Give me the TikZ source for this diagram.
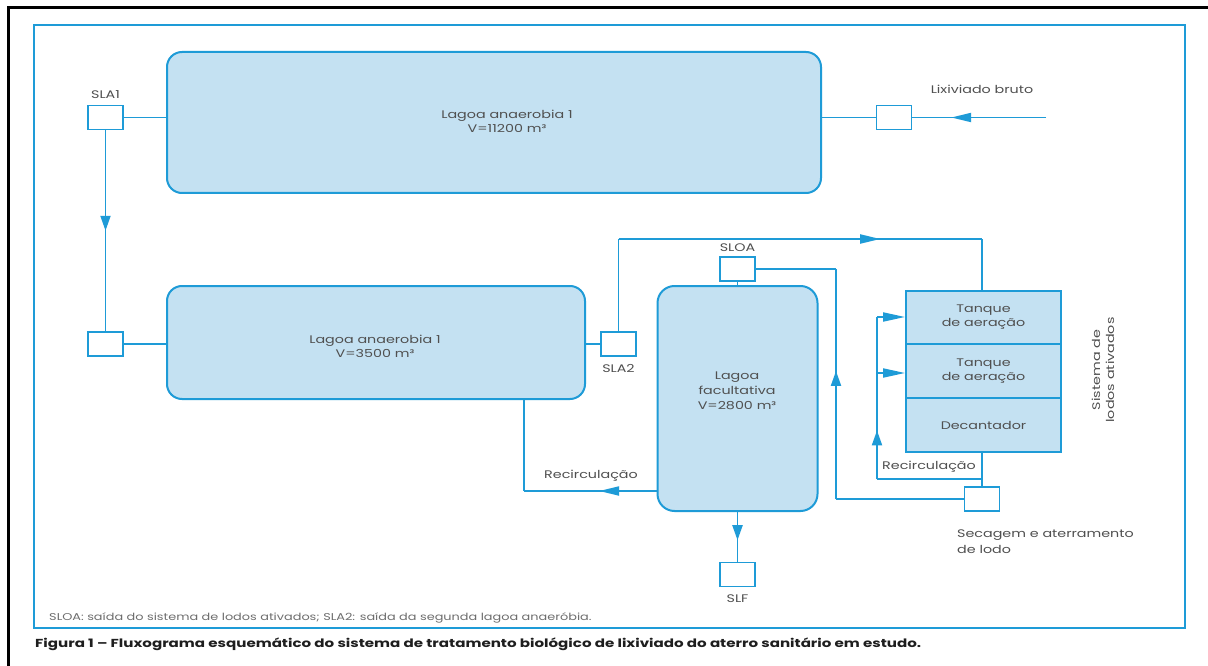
\documentclass[tikz,border=0pt]{standalone}
\usepackage{fontspec}
\setmainfont[FakeStretch=1.3]{Poppins}
\usetikzlibrary{arrows.meta,decorations.markings}
\definecolor{lineblue}{RGB}{30,155,215}
\definecolor{fillblue}{RGB}{196,225,242}
\definecolor{txtgray}{RGB}{80,80,80}
\tikzset{
  conn/.style={draw=lineblue,line width=1.9pt},
  lagoa/.style={draw=lineblue,fill=fillblue,line width=2pt,rounded corners=15pt,inner sep=0pt},
  smallbox/.style={draw=lineblue,fill=white,line width=1.9pt,minimum width=35pt,minimum height=24pt,inner sep=0pt},
  tank/.style={draw=lineblue,fill=fillblue,line width=1.9pt,minimum width=155pt,inner sep=0pt,align=center,font=\fontsize{11}{14}\selectfont,text=txtgray},
  lbl/.style={font=\fontsize{11}{14}\selectfont,text=txtgray,inner sep=0pt},
  vmark/.style={postaction={decorate,decoration={markings,mark=at position #1 with {\arrow{Triangle[length=15pt,width=10pt]}}}}},
  hmark/.style={postaction={decorate,decoration={markings,mark=at position #1 with {\arrow{Triangle[length=20pt,width=9pt]}}}}},
  tipend/.style={-{Triangle[length=22pt,width=9pt]}}
}
\begin{document}
\begin{tikzpicture}[x=1pt,y=-1pt,color=lineblue,fill=lineblue]
\useasboundingbox (0,0) rectangle (1208,666);
\fill[white] (0,0) rectangle (1208,666);
% outer frames
\draw[black,line width=3pt] (8,666) -- (8,8) -- (1208,8);
\draw[lineblue,line width=1.5pt] (34,25) rectangle (1185,628);

% lagoons
\node[lagoa,minimum width=654pt,minimum height=141pt] (lag1) at (494,122.5) {};
\node[lbl,align=center] (lag1t) at (507,121) {Lagoa anaerobia 1\\V=11200 m³};
\node[lagoa,minimum width=418pt,minimum height=113pt] (lag2) at (376,342.5) {};
\node[lbl,align=center] (lag2t) at (375,346) {Lagoa anaerobia 1\\V=3500 m³};
\node[lagoa,rounded corners=17pt,minimum width=160pt,minimum height=225pt] (lagf) at (737.5,398.5) {};
\node[lbl,align=center,font=\fontsize{11}{15}\selectfont] (lagft) at (737,391) {Lagoa\\facultativa\\V=2800 m³};

% activated sludge system
\node[tank,minimum height=53pt] (tank1) at (983.5,317.5) {Tanque\\de aeração};
\node[tank,minimum height=54pt] (tank2) at (983.5,371) {Tanque\\de aeração};
\node[tank,minimum height=54pt] (dec) at (983.5,425) {Decantador};
\node[lbl,rotate=90,align=center] (sist) at (1103,370) {Sistema de\\lodos ativados};

% small boxes
\node[smallbox] (sla1) at (105.5,117.5) {};
\node[lbl] (sla1l) at (105.5,95) {SLA1};
\node[smallbox] (b2) at (105.5,344) {};
\node[smallbox] (sla2) at (618.5,344) {};
\node[lbl] (sla2l) at (618.5,368) {SLA2};
\node[smallbox] (sloa) at (737.5,269) {};
\node[lbl] (sloal) at (737.5,248) {SLOA};
\node[smallbox] (slf) at (737.5,574.5) {};
\node[lbl] (slfl) at (737.5,599) {SLF};
\node[smallbox] (lix) at (894,117.5) {};
\node[lbl] (lixl) at (982,89) {Lixiviado bruto};
\node[smallbox] (sec) at (982,499) {};
\node[lbl,align=left,anchor=north west,font=\fontsize{11}{16}\selectfont] (secl) at (957,530) {Secagem e aterramento\\de lodo};

% coordinates
\coordinate (c1) at (618.5,239);
\coordinate (c2) at (982,239);
\coordinate (c3) at (836,269);
\coordinate (c4) at (836,499);
\coordinate (c5) at (982,479);
\coordinate (c6) at (877,479);
\coordinate (c7) at (877,317);
\coordinate (c8) at (877,373);
\coordinate (c9) at (524,491);
\coordinate (c10) at (1046,117.5);

% connectors
\draw[conn] (sla1.east) -- (sla1.east -| lag1.west);
\draw[conn,vmark=0.5] (sla1.south) -- (b2.north);
\draw[conn] (b2.east) -- (b2.east -| lag2.west);
\draw[conn] (sla2.west -| lag2.east) -- (sla2.west);
\draw[conn] (sla2.north) -- (c1);
\draw[conn,hmark=0.72] (c1) -- (c2);
\draw[conn] (c2) -- (c2 |- tank1.north);
\draw[conn] (sloa.south) -- (sloa.south |- lagf.north);
\draw[conn] (sloa.east) -- (c3);
\draw[conn,vmark=0.557] (c4) -- (c3);
\draw[conn] (sec.west) -- (c4);
\draw[conn] (sec.north) -- (sec.north |- dec.south);
\draw[conn] (c5) -- (c6);
\draw[conn,vmark=0.30] (c6) -- (c7);
\draw[conn,tipend] (c7) -- (c7 -| tank1.west);
\draw[conn,tipend] (c8) -- (c8 -| tank2.west);
\draw[conn] (c9 |- lag2.south) -- (c9);
\draw[conn,hmark=0.433] (c9 -| lagf.west) -- (c9);
\draw[conn,vmark=0.57] (slf.north |- lagf.south) -- (slf.north);
\draw[conn,hmark=0.71] (c10) -- (lix.east);
\draw[conn] (lix.west) -- (lix.west -| lag1.east);

% recirculation labels
\node[lbl] (rec1) at (591,476) {Recirculação};
\node[lbl] (rec2) at (929,467) {Recirculação};

% notes
\node[lbl,anchor=west,font=\fontsize{9.9}{11}\selectfont,text={rgb,255:red,110;green,110;blue,110}] (foot) at (49,618) {SLOA: saída do sistema de lodos ativados; SLA2: saída da segunda lagoa anaeróbia.};
\node[lbl,anchor=west,font=\fontsize{11.6}{13}\bfseries,text={rgb,255:red,30;green,30;blue,30}] (cap) at (35,644) {Figura 1 – Fluxograma esquemático do sistema de tratamento biológico de lixiviado do aterro sanitário em estudo.};
\end{tikzpicture}
\end{document}
